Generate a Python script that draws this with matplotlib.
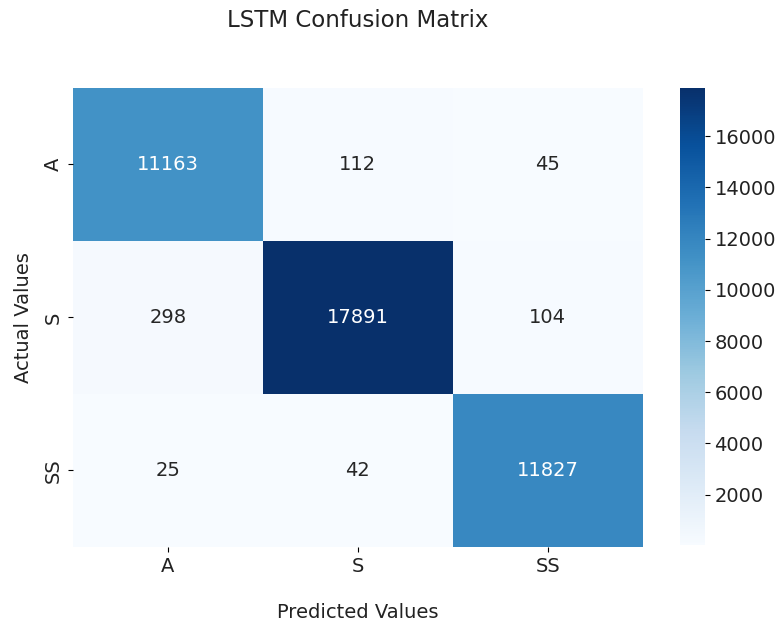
import numpy as np
import seaborn as sns
from matplotlib import pyplot as plt

labels = ["A", "S", "SS"]
cm_values = np.array([[11163, 112, 45],
                      [298, 17891, 104],
                      [25, 42, 11827]])

plt.rcParams['font.size'] = 14
plt.rcParams['text.color'] = '#222222'
plt.rcParams['xtick.labelcolor'] = '#222222'
plt.rcParams['ytick.labelcolor'] = '#222222'
plt.rcParams['axes.labelcolor'] = '#222222'

fig = plt.figure(figsize=(7.83, 6.23), dpi=100)
ax = fig.add_axes([0.093, 0.122, 0.728, 0.737])
cax = fig.add_axes([0.868, 0.125, 0.032, 0.734])

sns.heatmap(cm_values, annot=True, fmt='d', cmap='Blues', ax=ax, cbar_ax=cax,
            xticklabels=labels, yticklabels=labels)

ax.set_title("LSTM Confusion Matrix", fontsize=16.5, pad=44)
ax.set_xlabel("Predicted Values", labelpad=20)
ax.set_ylabel("Actual Values", labelpad=8)

fig.savefig("out.png", dpi=100)
